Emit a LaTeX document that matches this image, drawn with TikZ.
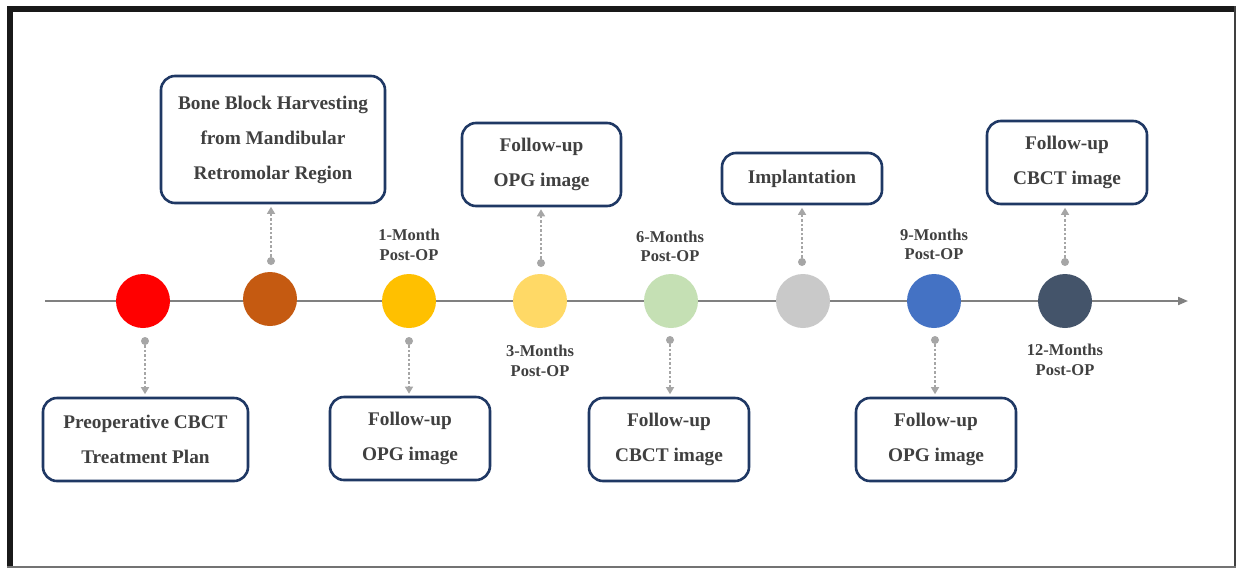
\documentclass[tikz,border=0pt]{standalone}
\usepackage{fontspec}
\setmainfont{Liberation Serif}
\usetikzlibrary{arrows.meta}
\definecolor{navyline}{HTML}{1F3864}
\definecolor{txtgray}{HTML}{404040}
\definecolor{dotgray}{HTML}{A6A6A6}
\definecolor{axisgray}{HTML}{808080}
\tikzset{every picture/.style={line width=0.75pt}}
\tikzset{
  stage/.style={draw=navyline, line width=2.6pt, rounded corners=14pt, fill=white, text=txtgray, align=center, inner sep=0pt, font=\fontsize{19.3}{35}\selectfont\bfseries},
  when/.style={text=txtgray, align=center, inner sep=0pt, font=\fontsize{16.5}{19.5}\selectfont\bfseries},
  mark dot/.style={circle, fill=dotgray, inner sep=0pt, minimum size=8pt},
  event/.style={circle, inner sep=0pt, minimum size=54pt},
  link/.style={dotgray, line width=1.3pt, dash pattern=on 2.5pt off 2pt, -{Triangle[length=7pt,width=8pt]}}
}

\begin{document}
\begin{tikzpicture}[x=1pt,y=1pt,yscale=-1,xscale=1]
\useasboundingbox (0,0) rectangle (1236,568);
% frame
\fill[white] (7,6) rectangle (1236,568);
\fill[black!90] (7,6) rectangle (1236,11.5);
\fill[black!90] (7,6) rectangle (12.5,568);
\fill[black!75] (1233.5,6) rectangle (1235.5,568);
\fill[black!55] (7,566) rectangle (1236,568);
% axis
\coordinate (start) at (45,301);
\coordinate (end) at (1188,301);
\draw[axisgray, line width=2pt, -{Triangle[length=10pt,width=8pt]}] (start) -- (end);
% events
\node[event, fill={rgb,255:red,255;green,0;blue,0}] (e1) at (143,301) {};
\node[event, fill={rgb,255:red,197;green,90;blue,17}] (e2) at (270,299) {};
\node[event, fill={rgb,255:red,255;green,192;blue,0}] (e3) at (409,301) {};
\node[event, fill={rgb,255:red,255;green,217;blue,102}] (e4) at (540,301) {};
\node[event, fill={rgb,255:red,197;green,224;blue,180}] (e5) at (671,301) {};
\node[event, fill={rgb,255:red,201;green,201;blue,201}] (e6) at (803,301) {};
\node[event, fill={rgb,255:red,68;green,114;blue,196}] (e7) at (934,301) {};
\node[event, fill={rgb,255:red,68;green,84;blue,106}] (e8) at (1065,301) {};
% time labels
\node[when] (t3) at (409,245) {1-Month\\Post-OP};
\node[when] (t4) at (540,361) {3-Months\\Post-OP};
\node[when] (t5) at (670,246.5) {6-Months\\Post-OP};
\node[when] (t7) at (934,244.5) {9-Months\\Post-OP};
\node[when] (t8) at (1065,360) {12-Months\\Post-OP};
% boxes
\node[stage, minimum width=205pt, minimum height=83pt] (preop) at (145.5,439.5) {Preoperative CBCT\\Treatment Plan};
\node[stage, minimum width=224pt, minimum height=127pt] (harvest) at (273,139.5) {Bone Block Harvesting\\from Mandibular\\Retromolar Region};
\node[stage, minimum width=160pt, minimum height=83pt] (opga) at (410,438.5) {Follow-up\\OPG image};
\node[stage, minimum width=159pt, minimum height=83pt] (opgb) at (541.5,164.5) {Follow-up\\OPG image};
\node[stage, minimum width=160pt, minimum height=83pt] (cbcta) at (669,439.5) {Follow-up\\CBCT image};
\node[stage, minimum width=160pt, minimum height=51pt] (implant) at (802,178.5) {Implantation};
\node[stage, minimum width=160pt, minimum height=83pt] (opgc) at (936,439.5) {Follow-up\\OPG image};
\node[stage, minimum width=160pt, minimum height=83pt] (cbctb) at (1067,162.5) {Follow-up\\CBCT image};
% dots
\node[mark dot] (d1) at (145,341) {};
\node[mark dot] (d2) at (271,261) {};
\node[mark dot] (d3) at (409,341) {};
\node[mark dot] (d4) at (541,263) {};
\node[mark dot] (d5) at (670,340) {};
\node[mark dot] (d6) at (802,262) {};
\node[mark dot] (d7) at (935,340) {};
\node[mark dot] (d8) at (1065,262) {};
% links
\draw[link] (d1) -- ([yshift=-2.5pt]d1 |- preop.north);
\draw[link] (d2) -- ([yshift=2.5pt]d2 |- harvest.south);
\draw[link] (d3) -- ([yshift=-2pt]d3 |- opga.north);
\draw[link] (d4) -- ([yshift=2pt]d4 |- opgb.south);
\draw[link] (d5) -- ([yshift=-2.5pt]d5 |- cbcta.north);
\draw[link] (d6) -- ([yshift=2.5pt]d6 |- implant.south);
\draw[link] (d7) -- ([yshift=-2.5pt]d7 |- opgc.north);
\draw[link] (d8) -- ([yshift=2.5pt]d8 |- cbctb.south);
\end{tikzpicture}
\end{document}
